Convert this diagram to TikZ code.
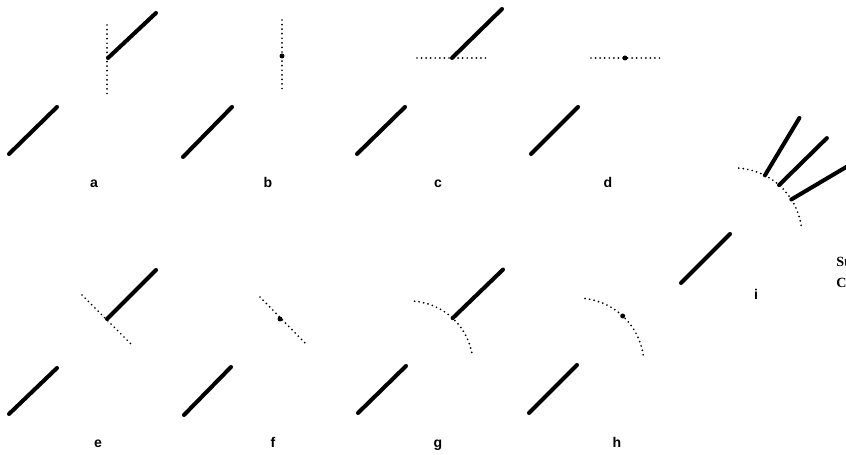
\documentclass[tikz,border=0pt]{standalone}
\usepackage{fontspec}
\setsansfont{Liberation Sans}
\newfontfamily\capfont{Liberation Serif}
\usetikzlibrary{calc}

\begin{document}
\begin{tikzpicture}[x=0.02cm, y=0.02cm,
    fibre/.style={line width=2.3pt, line cap=round},
    trace/.style={line width=1.1pt, line cap=round, dash pattern=on 0pt off 2.6pt},
    lab/.style={font=\sffamily\bfseries\fontsize{8}{9}\selectfont, anchor=base, inner sep=0pt}]
    \useasboundingbox (0,0) rectangle (846,-455);
    \clip (0,0) rectangle (846,-455);

    \begin{scope}[]
        \coordinate (L1) at (9,-154);
        \coordinate (L2) at (57,-107);
        \coordinate (J) at (108,-58);
        \coordinate (U) at (156,-13);
        \coordinate (T1) at (107,-25);
        \coordinate (T2) at (107,-96);
        \draw[trace] (T1) -- (T2);
        \draw[fibre] (L1) -- (L2);
        \draw[fibre] (J) -- (U);
        \node[lab] (la) at (94,-188) {a};
    \end{scope}

    \begin{scope}[shift={(174,0)}]
        \coordinate (L1) at (9,-157);
        \coordinate (L2) at (58,-107);
        \coordinate (J) at (108,-56);
        \coordinate (T1) at (108,-20);
        \coordinate (T2) at (108,-93);
        \draw[trace] (T1) -- (T2);
        \fill (J) circle[radius=2.5];
        \draw[fibre] (L1) -- (L2);
        \node[lab] (lb) at (94,-188) {b};
    \end{scope}

    \begin{scope}[shift={(348,0)}]
        \coordinate (L1) at (9,-154);
        \coordinate (L2) at (57,-107);
        \coordinate (J) at (104,-58);
        \coordinate (U) at (154,-9);
        \coordinate (T1) at (69,-58);
        \coordinate (T2) at (142,-58);
        \draw[trace] (T1) -- (T2);
        \draw[fibre] (L1) -- (L2);
        \draw[fibre] (J) -- (U);
        \node[lab] (lc) at (90,-188) {c};
    \end{scope}

    \begin{scope}[shift={(522,0)}]
        \coordinate (L1) at (9,-154);
        \coordinate (L2) at (56,-107);
        \coordinate (J) at (103,-58);
        \coordinate (T1) at (69,-58);
        \coordinate (T2) at (141,-58);
        \draw[trace] (T1) -- (T2);
        \fill (J) circle[radius=2.5];
        \draw[fibre] (L1) -- (L2);
        \node[lab] (ld) at (86,-188) {d};
    \end{scope}

    \begin{scope}[shift={(0,-260)}]
        \coordinate (L1) at (9,-154);
        \coordinate (L2) at (57,-108);
        \coordinate (J) at (107,-59);
        \coordinate (U) at (156,-10);
        \coordinate (T1) at (82,-35);
        \coordinate (T2) at (131,-84);
        \draw[trace] (T1) -- (T2);
        \draw[fibre] (L1) -- (L2);
        \draw[fibre] (J) -- (U);
        \node[lab] (le) at (98,-188) {e};
    \end{scope}

    \begin{scope}[shift={(174,-260)}]
        \coordinate (L1) at (10,-155);
        \coordinate (L2) at (57,-107);
        \coordinate (J) at (106,-59);
        \coordinate (T1) at (86,-37);
        \coordinate (T2) at (132,-84);
        \draw[trace] (T1) -- (T2);
        \fill (J) circle[radius=2.5];
        \draw[fibre] (L1) -- (L2);
        \node[lab] (lf) at (99,-188) {f};
    \end{scope}

    \begin{scope}[shift={(348,-260)}]
        \coordinate (L1) at (10,-153);
        \coordinate (L2) at (58,-106);
        \coordinate (C) at (61,-105);
        \coordinate (J) at ($(C)+(47:64)$);
        \coordinate (U) at ($(J)+(44:70)$);
        \draw[trace] (C) ++(85:64) arc[start angle=85, end angle=8, radius=64];
        \draw[fibre] (L1) -- (L2);
        \draw[fibre] (J) -- (U);
        \node[lab] (lg) at (90,-188) {g};
    \end{scope}

    \begin{scope}[shift={(522,-260)}]
        \coordinate (L1) at (7,-153);
        \coordinate (L2) at (55,-105);
        \coordinate (C) at (55,-105);
        \coordinate (J) at ($(C)+(47:67)$);
        \draw[trace] (C) ++(83:67) arc[start angle=83, end angle=8.5, radius=67];
        \fill (J) circle[radius=2.5];
        \draw[fibre] (L1) -- (L2);
        \node[lab] (lh) at (95,-188) {h};
    \end{scope}

    \begin{scope}[]
        \coordinate (L1) at (681,-283);
        \coordinate (L2) at (730,-234);
        \coordinate (C) at (734,-236);
        \coordinate (J1) at ($(C)+(63:68)$);
        \coordinate (J2) at ($(C)+(48.5:68)$);
        \coordinate (J3) at ($(C)+(32.5:68)$);
        \draw[trace] (C) ++(86:68) arc[start angle=86, end angle=9, radius=68];
        \draw[fibre] (L1) -- (L2);
        \draw[fibre] (J1) -- ($(J1)+(59:67)$);
        \draw[fibre] (J2) -- ($(J2)+(44.5:67)$);
        \draw[fibre] (J3) -- ($(J3)+(30.6:67)$);
        \node[lab] (li) at (756,-300) {i};
    \end{scope}

    % cut-off caption at the right edge
    \node[font=\capfont\bfseries\fontsize{8}{9}\selectfont, anchor=base west, inner sep=0pt] (cap1) at (836,-267) {St};
    \node[font=\capfont\bfseries\fontsize{8}{9}\selectfont, anchor=base west, inner sep=0pt] (cap2) at (836,-288) {Co};
\end{tikzpicture}
\end{document}
